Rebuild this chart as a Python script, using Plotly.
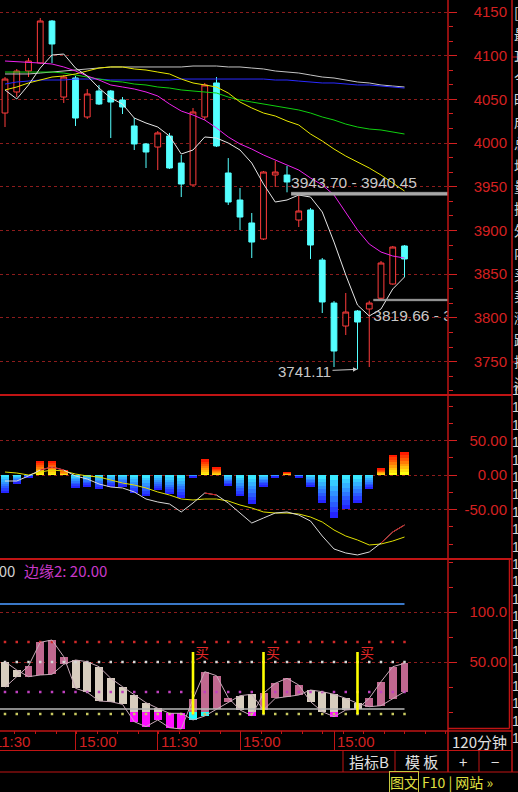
import plotly.graph_objects as go

W, H = 518, 792
PX0, PXI = 5.0, 11.75          # pixel x of candle 0 and pixels per candle
CHART_R = 448                  # right edge of chart area (px)
XMIN = -PX0 / PXI
XMAX = (CHART_R - PX0) / PXI

# ---------------- data ----------------
candle_idx = list(range(35))
open_ = [4034.4, 4058.5, 4082.5, 4091.6, 4139.7, 4052.7, 4074.5, 4029.9, 4059.6, 4059.6,
         4049.3, 4019.6, 3999.0, 3995.5, 4008.1, 3977.2, 3952.1, 4029.9, 4068.8, 3965.8,
         3934.9, 3908.6, 3890.3, 3963.5, 3963.5, 3912.0, 3923.5, 3866.2, 3817.0, 3790.7,
         3807.9, 3810.2, 3822.5, 3838.8, 3882.3]
high_ = [4075.6, 4084.8, 4097.4, 4143.1, 4140.8, 4077.9, 4076.8, 4061.9, 4066.5, 4060.8,
         4052.7, 4028.7, 4000.1, 4013.8, 4011.6, 3986.4, 4040.2, 4068.8, 4075.6, 3982.9,
         3948.6, 3920.0, 3968.1, 3979.5, 3973.8, 3940.45, 3925.7, 3868.5, 3819.3, 3828.5,
         3809.0, 3819.66, 3865.1, 3882.3, 3883.4]
low_ = [4018.4, 4052.7, 4075.6, 4090.5, 4091.6, 4045.9, 4019.6, 4027.6, 4043.6, 4005.8,
        4033.3, 3992.1, 3971.5, 3969.2, 3970.4, 3938.3, 3951.0, 4026.4, 3995.5, 3929.2,
        3900.6, 3868.5, 3889.1, 3949.8, 3943.7, 3904.0, 3867.4, 3805.6, 3743.8, 3780.4,
        3741.11, 3743.8, 3821.3, 3838.0, 3846.8]
close_ = [4073.3, 4082.5, 4093.9, 4139.7, 4113.4, 4075.6, 4028.7, 4056.2, 4044.7, 4047.0,
          4041.3, 3999.0, 3989.8, 4011.6, 3971.5, 3953.2, 4035.6, 4066.5, 3996.7, 3932.6,
          3915.4, 3886.8, 3966.9, 3966.9, 3955.5, 3922.3, 3883.4, 3818.2, 3762.1, 3806.7,
          3795.3, 3817.0, 3862.8, 3881.1, 3867.4]

ma_white = [4060.8, 4050.5, 4066.5, 4085.9, 4100.8, 4101.9, 4085.9, 4076.8, 4063.0, 4051.6,
            4044.7, 4028.7, 4023.0, 4018.4, 4008.1, 3987.5, 3992.1, 4007.0, 4005.8, 4000.1,
            3992.1, 3977.2, 3953.2, 3932.6, 3934.9, 3940.6, 3938.3, 3921.2, 3886.8, 3849.1,
            3814.7, 3802.2, 3810.2, 3833.1, 3846.8]
ma_magenta = [4093.9, 4093.4, 4092.8, 4091.6, 4090.5, 4087.1, 4082.5, 4076.8, 4072.2, 4066.5,
              4064.2, 4061.9, 4058.5, 4053.9, 4044.7, 4036.7, 4032.1, 4026.4, 4017.3, 4007.0,
              3999.0, 3993.2, 3986.4, 3980.7, 3974.9, 3969.2, 3960.1, 3952.1, 3940.6, 3920.0,
              3900.6, 3884.5, 3875.4, 3870.8, 3868.5]
ma_yellow = [4060.8, 4064.2, 4068.8, 4072.2, 4075.6, 4076.8, 4079.1, 4082.5, 4085.9, 4087.1,
             4087.1, 4084.8, 4083.6, 4081.3, 4079.1, 4073.3, 4068.8, 4066.5, 4064.2, 4057.3,
             4047.0, 4040.2, 4034.4, 4031.0, 4025.3, 4020.7, 4010.4, 4002.4, 3993.2, 3985.2,
             3978.4, 3971.5, 3963.5, 3954.3, 3945.2]
ma_green = [4081.3, 4081.3, 4081.3, 4081.3, 4081.3, 4080.2, 4077.9, 4075.6, 4073.3, 4071.0,
            4069.9, 4067.6, 4066.5, 4064.2, 4063.0, 4060.8, 4059.6, 4058.5, 4057.3, 4052.7,
            4049.3, 4047.0, 4044.7, 4042.4, 4040.2, 4037.9, 4034.4, 4029.9, 4026.4, 4021.8,
            4018.4, 4016.1, 4015.0, 4012.7, 4010.4]
ma_blue = [4067.6, 4069.9, 4071.0, 4072.2, 4072.2, 4072.2, 4073.3, 4073.3, 4073.3, 4072.2,
           4072.2, 4072.2, 4072.2, 4072.2, 4072.2, 4073.3, 4073.3, 4073.3, 4073.3, 4073.3,
           4073.3, 4073.3, 4073.3, 4072.2, 4072.2, 4071.0, 4069.9, 4068.8, 4068.8, 4067.6,
           4066.5, 4066.5, 4065.3, 4064.2, 4063.0]
ma_gray = [4079.1, 4079.1, 4079.1, 4080.2, 4081.3, 4082.5, 4083.6, 4084.8, 4085.9, 4087.1,
           4087.1, 4087.1, 4087.1, 4087.1, 4087.1, 4087.1, 4088.2, 4088.2, 4088.2, 4087.1,
           4087.1, 4085.9, 4084.8, 4082.5, 4081.3, 4080.2, 4077.9, 4075.6, 4074.5, 4072.2,
           4069.9, 4068.8, 4066.5, 4065.3, 4064.2]

price_ticks = [3750, 3800, 3850, 3900, 3950, 4000, 4050, 4100, 4150]
price_tick_text = ["3750", "3800", "3850", "3900", "3950", "4000", "4050", "4100", "4150"]

gap_lo = [3940.45, 3819.66]
gap_hi = [3943.70, 3821.30]
gap_start = [24.35, 31.35]
gap_text = ["3943.70 - 3940.45", "3819.66 - 3821.30"]
low_mark_idx, low_mark_val, low_mark_text = 30, 3741.11, "3741.11"

macd_hist = [-26, -12, -3, 20, 20, 7, -19, -17, -20, -17, -17, -26, -31, -22, -28, -33, -3, 23,
             11, -16, -31, -42, -17, -3, 4, -3, -17, -41, -62, -49, -41, -21, 9, 29, 33]
macd_dif = [-8.7, -8.7, -1.4, 7.2, 11.6, 7.2, -1.4, -5.8, -13.0, -17.4, -18.8, -24.6, -34.8,
            -39.1, -42.0, -53.6, -40.6, -26.1, -29.0, -40.6, -55.1, -69.6, -62.3, -55.1, -53.6,
            -58.0, -66.7, -88.4, -107.2, -113.0, -115.9, -111.6, -98.6, -82.6, -72.5]
macd_dea = [4.3, 2.9, 0.0, 4.3, 7.2, 5.8, 1.4, -1.4, -2.9, -7.2, -11.6, -14.5, -18.8, -24.6,
            -29.0, -34.8, -36.2, -34.8, -34.8, -37.7, -43.5, -47.8, -53.6, -55.1, -55.1, -56.5,
            -60.9, -68.1, -79.7, -88.4, -94.2, -101.4, -100.0, -95.7, -89.9]
macd_ticks = [50, 0, -50]
macd_tick_text = ["50.00", "0.00", "-50.00"]

osc_k = [24.7, 35.3, 46.0, 69.7, 72.0, 55.3, 23.7, 19.7, 11.0, 10.3, 7.7, -9.7, -14.7, -8.0,
         -15.7, -17.0, 13.0, 40.3, 36.3, 14.3, 2.0, -3.7, 18.7, 28.7, 33.7, 27.0, 10.3, 0.3,
         -4.7, 2.0, 3.0, 13.7, 30.3, 45.3, 48.7]
osc_d = [50.3, 42.0, 35.3, 37.0, 37.7, 47.7, 52.0, 50.3, 45.3, 33.7, 25.3, 17.0, 9.3, 3.7,
         -1.3, -1.3, -8.0, -4.0, 3.0, 9.7, 16.3, 17.7, 2.0, 13.7, 15.3, 17.0, 22.0, 20.3,
         17.7, 13.7, 8.7, 5.3, 6.3, 13.0, 20.3]
osc_ticks = [100, 50]
osc_tick_text = ["100.0", "50.00"]
buy_idx = [16, 22, 30]
buy_top, buy_bottom = 60, -2
osc_blue_level = 108
osc_base_level = 3
dot_levels = [70, 50, 20, -2]

time_sep_idx = [-1.2, 6, 13, 20, 28]
time_labels = ["11:30", "15:00", "11:30", "15:00", "15:00"]

# ---------------- styling ----------------
RED = "#d42020"
FRAME = "#c01414"
GRID = "#8c1c1c"
NUMF = "Liberation Sans, Arial, sans-serif"
CJKF = "Noto Sans CJK SC, sans-serif"
CANDLE_UP = "#ff3c3c"
CANDLE_DN = "#54ffff"
PRICE_PX_PER_UNIT = 0.874
GAP_LABEL_DROP_PX = 9       # extra drop of the lower gap label


def fx(px):
    return px / W


def fy(py):
    return 1 - py / H


P1, P2, P3 = (0, 394), (396, 558), (560, 730)
dom = lambda p: [fy(p[1]), fy(p[0])]
P1_RANGE = [4150 - (P1[1] - 12) / PRICE_PX_PER_UNIT, 4150 + (12 - P1[0]) / PRICE_PX_PER_UNIT]
P2_RANGE = [-(P2[1] - 475) / 0.69, (475 - P2[0]) / 0.69]
P3_RANGE = [-(P3[1] - 712) / 1.0, (712 - P3[0]) / 1.0]

fig = go.Figure()

# ---------- panel 1: candles + MAs ----------
fig.add_trace(go.Candlestick(
    x=candle_idx, open=open_, high=high_, low=low_, close=close_,
    increasing=dict(line=dict(color=CANDLE_UP, width=1), fillcolor="#000000"),
    decreasing=dict(line=dict(color=CANDLE_DN, width=1), fillcolor=CANDLE_DN),
    whiskerwidth=0, xaxis="x", yaxis="y", hoverinfo="skip"))

for ma, col in [(ma_gray, "#c4c4c4"), (ma_blue, "#2a2aff"), (ma_green, "#10d010"),
                (ma_yellow, "#e8e800"), (ma_magenta, "#ee22ee"), (ma_white, "#e6e6e6")]:
    fig.add_trace(go.Scatter(x=candle_idx, y=ma, mode="lines",
                             line=dict(color=col, width=1), xaxis="x", yaxis="y",
                             hoverinfo="skip"))

for lo, hi, s, t, pos in zip(gap_lo, gap_hi, gap_start, gap_text, ["top right", "bottom right"]):
    fig.add_trace(go.Scatter(x=[s, XMAX, XMAX, s], y=[lo, lo, hi, hi], mode="lines",
                             fill="toself", fillcolor="#a8a8a8",
                             line=dict(color="#a8a8a8", width=0.6),
                             xaxis="x", yaxis="y", hoverinfo="skip"))
    ty = hi if pos.startswith("top") else lo - GAP_LABEL_DROP_PX / PRICE_PX_PER_UNIT
    fig.add_trace(go.Scatter(x=[s], y=[ty], mode="text",
                             text=[t], textposition=pos, cliponaxis=True,
                             textfont=dict(color="#c8c8c8", size=15.5, family=NUMF),
                             xaxis="x", yaxis="y", hoverinfo="skip"))

# ---------- panel 2: MACD ----------
NSEG = 8


def lerp(c1, c2, t):
    a = [int(c1[i:i + 2], 16) for i in (1, 3, 5)]
    b = [int(c2[i:i + 2], 16) for i in (1, 3, 5)]
    return "#%02x%02x%02x" % tuple(round(a[j] + (b[j] - a[j]) * t) for j in range(3))


for k in range(NSEG):
    t = k / (NSEG - 1)
    cols = [lerp("#ffff10", "#ff1a00", t) if v > 0 else lerp("#3ae8ff", "#2424ff", t)
            for v in macd_hist]
    fig.add_trace(go.Bar(x=candle_idx, y=[v / NSEG for v in macd_hist],
                         base=[v * k / NSEG for v in macd_hist], width=0.72,
                         marker=dict(color=cols, line=dict(width=0)),
                         xaxis="x2", yaxis="y2", hoverinfo="skip"))

fig.add_trace(go.Scatter(x=candle_idx, y=macd_dea, mode="lines",
                         line=dict(color="#e0e000", width=1), xaxis="x2", yaxis="y2",
                         hoverinfo="skip"))
fig.add_trace(go.Scatter(x=candle_idx, y=macd_dif, mode="lines",
                         line=dict(color="#d8d8d8", width=1), xaxis="x2", yaxis="y2",
                         hoverinfo="skip"))
above = [a > b for a, b in zip(macd_dif, macd_dea)]
n = len(above)
red_y = [macd_dif[i] if above[i] and ((i > 0 and above[i - 1]) or (i < n - 1 and above[i + 1]))
         else None for i in range(n)]
fig.add_trace(go.Scatter(x=candle_idx, y=red_y, mode="lines", connectgaps=False,
                         line=dict(color="#d01010", width=1), xaxis="x2", yaxis="y2",
                         hoverinfo="skip"))

# ---------- panel 3: oscillator ----------
fig.add_trace(go.Scatter(x=[XMIN, candle_idx[-1]], y=[osc_blue_level] * 2, mode="lines",
                         line=dict(color="#3a78c8", width=2), xaxis="x3", yaxis="y3",
                         hoverinfo="skip"))
fig.add_trace(go.Scatter(x=[XMIN, candle_idx[-1]], y=[osc_base_level] * 2, mode="lines",
                         line=dict(color="#b8b8b8", width=1.6), xaxis="x3", yaxis="y3",
                         hoverinfo="skip"))
for lvl, col in zip(dot_levels, ["#d02828", "#d8d8d8", "#c040c0", "#c8c860"]):
    fig.add_trace(go.Scatter(x=candle_idx, y=[lvl] * len(candle_idx), mode="markers",
                             marker=dict(color=col, size=2.5, symbol="square"),
                             xaxis="x3", yaxis="y3", hoverinfo="skip"))

fig.add_trace(go.Scatter(x=candle_idx, y=osc_k, mode="lines",
                         line=dict(color="#c8aab8", width=1), xaxis="x3", yaxis="y3",
                         hoverinfo="skip"))
fig.add_trace(go.Scatter(x=candle_idx, y=osc_d, mode="lines",
                         line=dict(color="#c8aab8", width=1), xaxis="x3", yaxis="y3",
                         hoverinfo="skip"))

ub, uh, uc, lb, lh, lc = [], [], [], [], [], []
for kv, dv in zip(osc_k, osc_d):
    hi, lo = max(kv, dv), min(kv, dv)
    rising = kv > dv
    b0 = max(lo, 0)
    ub.append(b0)
    uh.append(max(hi - b0, 0))
    uc.append("#c0688f" if rising else "#d7cdbe")
    lb.append(lo)
    lh.append(max(min(hi, 0) - lo, 0))
    lc.append("#20ffff" if rising else "#ff10ff")
fig.add_trace(go.Bar(x=candle_idx, y=uh, base=ub, width=0.68,
                     marker=dict(color=uc, line=dict(width=0)),
                     xaxis="x3", yaxis="y3", hoverinfo="skip"))
fig.add_trace(go.Bar(x=candle_idx, y=lh, base=lb, width=0.68,
                     marker=dict(color=lc, line=dict(width=0)),
                     xaxis="x3", yaxis="y3", hoverinfo="skip"))

bx, by = [], []
for b in buy_idx:
    bx += [b, b, None]
    by += [buy_top, buy_bottom, None]
fig.add_trace(go.Scatter(x=bx, y=by, mode="lines", line=dict(color="#ffff00", width=2.6),
                         xaxis="x3", yaxis="y3", hoverinfo="skip"))

# empty traces so the label axes get drawn
for xa, ya in [("x", "y4"), ("x2", "y5"), ("x3", "y6")]:
    fig.add_trace(go.Scatter(x=[], y=[], mode="markers", xaxis=xa, yaxis=ya,
                             hoverinfo="skip"))

# ---------------- annotations ----------------
ann = []
ann.append(dict(x=low_mark_idx, y=low_mark_val, xref="x", yref="y", text=low_mark_text,
                showarrow=True, ax=-53, ay=2, arrowhead=2, arrowsize=0.9, arrowwidth=1,
                arrowcolor="#c8c8c8", font=dict(color="#c8c8c8", size=15, family=NUMF)))
for b in buy_idx:
    ann.append(dict(x=b, y=buy_top, xref="x3", yref="y3", text="买", showarrow=False,
                    xanchor="left", yanchor="middle", xshift=0,
                    font=dict(color="#e02828", size=14, family=CJKF)))
ann.append(dict(x=fx(17), y=fy(570), xref="paper", yref="paper", text="边缘1: 70.00",
                showarrow=False, xanchor="right", yanchor="middle",
                font=dict(color="#d0d0d0", size=15, family=CJKF)))
ann.append(dict(x=fx(22), y=fy(570), xref="paper", yref="paper", text="边缘2: 20.00",
                showarrow=False, xanchor="left", yanchor="middle",
                font=dict(color="#c838c8", size=15, family=CJKF)))

for s, t in zip(time_sep_idx, time_labels):
    shift = (s - XMIN) * PXI if s < XMIN else 0
    ann.append(dict(x=max(s, XMIN), y=fy(741), xref="x3", yref="paper", text=t,
                    showarrow=False, xanchor="left", yanchor="middle", xshift=shift + 1,
                    font=dict(color=RED, size=15, family=NUMF)))

ann.append(dict(x=fx(479), y=fy(741), xref="paper", yref="paper", text="120分钟",
                showarrow=False, xanchor="center", yanchor="middle",
                font=dict(color="#e0e0e0", size=15, family=CJKF)))
for txt, cx in [("指标B", 369), ("模 板", 421), ("+", 463), ("−", 495)]:
    ann.append(dict(x=fx(cx), y=fy(761), xref="paper", yref="paper", text=txt,
                    showarrow=False, xanchor="center", yanchor="middle",
                    font=dict(color="#e0e0e0", size=15, family=CJKF)))
ann.append(dict(x=fx(389), y=fy(782), xref="paper", yref="paper", text="图文",
                showarrow=False, xanchor="left", yanchor="middle", bordercolor="#c8c840",
                borderwidth=1, borderpad=0,
                font=dict(color="#e0e040", size=14, family=CJKF)))
ann.append(dict(x=fx(420), y=fy(782), xref="paper", yref="paper", text="F10 | 网站 »",
                showarrow=False, xanchor="left", yanchor="middle",
                font=dict(color="#e0e040", size=14, family=CJKF)))

side_chars = ["[", "最", "耳", "今", "昨", "成", "总", "均", "量", "换", "外", "内",
              "买", "卖", "涨", "跌", "振", "流"]
for j, ch in enumerate(side_chars):
    ann.append(dict(x=fx(512), y=fy(12 + 21.8 * j), xref="paper", yref="paper", text=ch,
                    showarrow=False, xanchor="left", yanchor="middle",
                    font=dict(color="#d8d8d8", size=14, family=CJKF)))
for j in range(21):
    ann.append(dict(x=fx(510), y=fy(390 + 17.4 * j), xref="paper", yref="paper", text="1",
                    showarrow=False, xanchor="left", yanchor="middle",
                    font=dict(color="#d8d8d8", size=14, family=NUMF)))

# ---------------- frame shapes ----------------
shapes = []


def hline(y, x0, x1, w=1.5):
    shapes.append(dict(type="line", xref="paper", yref="paper", x0=fx(x0), x1=fx(x1),
                       y0=fy(y), y1=fy(y), line=dict(color=FRAME, width=w)))


def vline(x, y0, y1, w=1.5):
    shapes.append(dict(type="line", xref="paper", yref="paper", x0=fx(x), x1=fx(x),
                       y0=fy(y0), y1=fy(y1), line=dict(color=FRAME, width=w)))


hline(395, 0, 512, 2)
hline(559, 0, 512, 2)
hline(731, 0, 512, 1.5)
hline(750.5, 0, 512, 1)
hline(772, 0, 518, 1)
hline(57, 512, 518, 1)
hline(362, 512, 518, 1)
vline(448, 0, 772, 1.5)
vline(512, 0, 772, 1.5)
vline(509.5, 559, 728.5, 1.5)
hline(728.5, 448, 509.5, 1.5)
for xx in (343, 395, 479):
    vline(xx, 750.5, 772, 1)

# ---------------- axes ----------------
xcommon = dict(range=[XMIN, XMAX], domain=[0, fx(CHART_R)], showgrid=False, zeroline=False,
               showline=False, showticklabels=False, ticks="", fixedrange=True)


def ybase(d, rng, tick0, dtick, tickvals, mdtick):
    return dict(domain=d, range=rng, side="right", tickmode="array", tickvals=tickvals,
                showticklabels=False, ticks="outside", ticklen=8, tickwidth=1,
                tickcolor=RED, showgrid=True, gridcolor=GRID, griddash="dot", gridwidth=1,
                zeroline=False, showline=False, automargin=False,
                minor=dict(tickmode="linear", tick0=tick0, dtick=mdtick, ticks="outside",
                           ticklen=4, tickwidth=1, tickcolor=RED, showgrid=False))


def ylabels(over, rng, tickvals, ticktext):
    return dict(overlaying=over, anchor="free", position=fx(507), side="left", range=rng,
                tickmode="array", tickvals=tickvals, ticktext=ticktext, ticks="",
                showgrid=False, zeroline=False, showline=False, automargin=False,
                tickfont=dict(color=RED, size=15, family=NUMF))


fig.update_layout(
    width=W, height=H, margin=dict(l=0, r=0, t=0, b=0, autoexpand=False),
    paper_bgcolor="#000000", plot_bgcolor="#000000", showlegend=False,
    barmode="overlay", bargap=0,
    xaxis=dict(**xcommon, anchor="y", rangeslider=dict(visible=False)),
    xaxis2=dict(**xcommon, anchor="y2", matches="x"),
    xaxis3=dict(range=[XMIN, XMAX], domain=[0, fx(CHART_R)], anchor="y3", matches="x",
                showgrid=False, zeroline=False, showline=False, showticklabels=False,
                tickmode="array", tickvals=time_sep_idx, ticks="outside", ticklen=19,
                tickwidth=1, tickcolor=FRAME,
                minor=dict(tickmode="linear", tick0=7.83, dtick=1.745, ticks="outside",
                           ticklen=3, tickwidth=1, tickcolor=FRAME)),
    yaxis=ybase(dom(P1), P1_RANGE, 3750, 50, price_ticks, 50 / 3),
    yaxis2=ybase(dom(P2), P2_RANGE, 0, 50, macd_ticks, 25),
    yaxis3=ybase(dom(P3), P3_RANGE, 0, 50, osc_ticks, 25),
    yaxis4=ylabels("y", P1_RANGE, price_ticks, price_tick_text),
    yaxis5=ylabels("y2", P2_RANGE, macd_ticks, macd_tick_text),
    yaxis6=ylabels("y3", P3_RANGE, osc_ticks, osc_tick_text),
    annotations=ann, shapes=shapes,
)

fig.write_html("out.html", config={"displayModeBar": False},
               post_script="document.body.style.margin='0';")
